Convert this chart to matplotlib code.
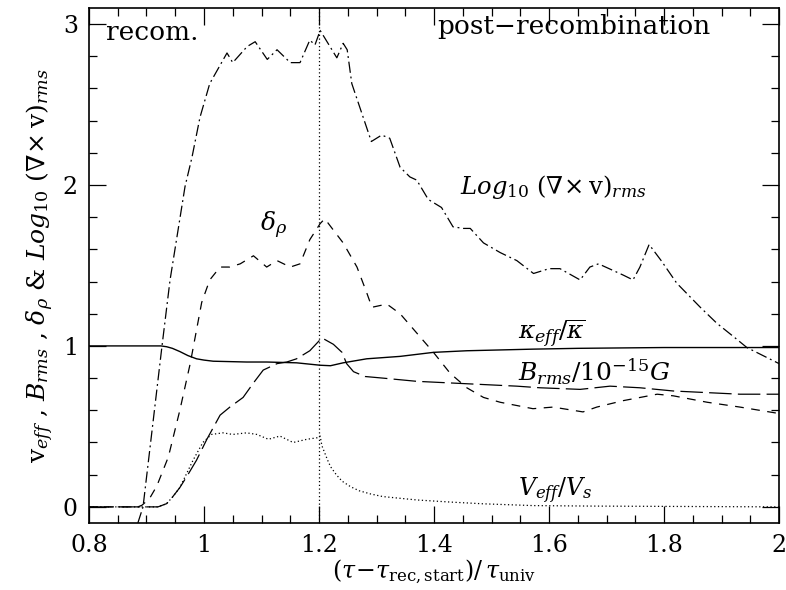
import matplotlib
matplotlib.use('Agg')
import matplotlib.pyplot as plt
from matplotlib.ticker import MultipleLocator

plt.rcParams['font.family'] = 'DejaVu Serif'
plt.rcParams['mathtext.fontset'] = 'dejavuserif'

# Log10 (curl v)_rms  (dash-dot)
curl_x = [0.885, 0.894, 0.927, 0.941, 0.967, 0.979, 0.993, 1.010, 1.040, 1.050, 1.075, 1.089,
          1.110, 1.127, 1.150, 1.167, 1.184, 1.193, 1.202, 1.231, 1.242, 1.249, 1.257, 1.291,
          1.309, 1.323, 1.341, 1.358, 1.370, 1.390, 1.413, 1.433, 1.451, 1.463, 1.486, 1.515,
          1.544, 1.573, 1.600, 1.619, 1.654, 1.671, 1.686, 1.729, 1.746, 1.758, 1.774, 1.795,
          1.822, 1.863, 1.892, 1.920, 1.944, 2.000]
curl_y = [-0.1, 0.0, 1.0, 1.41, 1.99, 2.17, 2.42, 2.63, 2.82, 2.76, 2.86, 2.89,
          2.78, 2.84, 2.76, 2.76, 2.90, 2.87, 2.96, 2.79, 2.88, 2.84, 2.63, 2.27,
          2.31, 2.29, 2.11, 2.05, 2.03, 1.91, 1.86, 1.74, 1.73, 1.73, 1.64, 1.58,
          1.53, 1.45, 1.48, 1.48, 1.41, 1.49, 1.51, 1.44, 1.41, 1.49, 1.63, 1.53,
          1.39, 1.24, 1.14, 1.06, 0.99, 0.89]

# delta_rho  (short dashes)
rho_x = [0.80, 0.885, 0.892, 0.905, 0.918, 0.938, 0.958, 0.976, 0.996, 1.010, 1.028, 1.045,
         1.063, 1.086, 1.109, 1.127, 1.150, 1.167, 1.184, 1.202, 1.210, 1.242, 1.266, 1.283,
         1.292, 1.318, 1.341, 1.370, 1.399, 1.428, 1.457, 1.486, 1.515, 1.572, 1.607, 1.659,
         1.683, 1.729, 1.788, 1.816, 1.875, 1.932, 2.000]
rho_y = [0.0, 0.0, 0.01, 0.05, 0.13, 0.31, 0.60, 0.89, 1.27, 1.41, 1.49, 1.49,
         1.51, 1.56, 1.49, 1.53, 1.49, 1.51, 1.66, 1.76, 1.79, 1.64, 1.49, 1.33,
         1.24, 1.26, 1.20, 1.08, 0.96, 0.83, 0.74, 0.68, 0.65, 0.61, 0.62, 0.59,
         0.62, 0.66, 0.70, 0.69, 0.65, 0.62, 0.58]

# B_rms / 1e-15 G  (long dashes)
b_x = [0.80, 0.92, 0.935, 0.945, 0.958, 0.972, 0.987, 1.005, 1.028, 1.045, 1.068, 1.086,
       1.103, 1.127, 1.144, 1.161, 1.184, 1.205, 1.225, 1.240, 1.248, 1.260, 1.280, 1.311,
       1.370, 1.428, 1.486, 1.544, 1.584, 1.654, 1.706, 1.758, 1.816, 1.874, 1.932, 2.000]
b_y = [0.0, 0.0, 0.02, 0.06, 0.12, 0.20, 0.29, 0.42, 0.57, 0.62, 0.68, 0.77,
       0.85, 0.89, 0.90, 0.92, 0.97, 1.05, 1.01, 0.96, 0.89, 0.84, 0.81, 0.80,
       0.78, 0.77, 0.76, 0.75, 0.74, 0.73, 0.75, 0.74, 0.72, 0.71, 0.70, 0.70]

# kappa_eff / kappa_bar  (solid)
kap_x = [0.80, 0.925, 0.935, 0.945, 0.958, 0.972, 0.987, 1.000, 1.016, 1.074, 1.109, 1.161,
         1.202, 1.220, 1.242, 1.283, 1.341, 1.399, 1.457, 1.515, 1.572, 1.650, 1.800, 2.000]
kap_y = [1.0, 1.0, 0.995, 0.985, 0.965, 0.94, 0.92, 0.912, 0.905, 0.90, 0.90, 0.895,
         0.88, 0.877, 0.895, 0.92, 0.935, 0.96, 0.97, 0.975, 0.98, 0.985, 0.99, 0.99]

# v_eff / v_s  (dotted)
v_x = [0.80, 0.92, 0.935, 0.945, 0.958, 0.981, 0.998, 1.013, 1.033, 1.050, 1.074, 1.092,
       1.112, 1.132, 1.155, 1.179, 1.198, 1.202, 1.205, 1.210, 1.215, 1.220, 1.230, 1.240,
       1.255, 1.270, 1.290, 1.311, 1.370, 1.428, 1.486, 1.572, 1.671, 2.000]
v_y = [0.0, 0.0, 0.02, 0.06, 0.12, 0.29, 0.40, 0.45, 0.46, 0.45, 0.46, 0.45,
       0.42, 0.44, 0.40, 0.42, 0.43, 0.44, 0.38, 0.335, 0.29, 0.25, 0.20, 0.16,
       0.125, 0.10, 0.08, 0.064, 0.043, 0.03, 0.019, 0.008, 0.005, 0.0]

fig = plt.figure(figsize=(7.86, 5.9), dpi=100)
ax = fig.add_axes([0.1132, 0.1136, 0.878, 0.873])

ax.plot(curl_x, curl_y, color='black', lw=0.9, dashes=(9, 3, 1.5, 3))
ax.plot(rho_x, rho_y, color='black', lw=0.9, dashes=(7, 6))
ax.plot(b_x, b_y, color='black', lw=0.9, dashes=(18, 5))
ax.plot(kap_x, kap_y, color='black', lw=1.0)
ax.plot(v_x, v_y, color='black', lw=0.9, dashes=(1, 2))
ax.axvline(1.2, color='black', lw=0.9, dashes=(1, 2))

ax.set_xlim(0.8, 2.0)
ax.set_ylim(-0.1, 3.1)
ax.xaxis.set_minor_locator(MultipleLocator(0.05))
ax.yaxis.set_major_locator(MultipleLocator(1))
ax.yaxis.set_minor_locator(MultipleLocator(0.2))
ax.set_xticks([0.8, 1.0, 1.2, 1.4, 1.6, 1.8, 2.0])
ax.set_xticklabels(['0.8', '1', '1.2', '1.4', '1.6', '1.8', '2'])
ax.tick_params(which='both', direction='in', top=True, right=True, labelsize=17, width=0.9)
ax.tick_params(which='major', length=12, pad=8)
ax.tick_params(which='minor', length=6)
for spine in ax.spines.values():
    spine.set_linewidth(1.2)

ax.set_xlabel(r'$(\tau\!-\!\tau_{\rm rec,start})/\,\tau_{\rm univ}$', fontsize=17, labelpad=0)
ax.set_ylabel(r'v$_{eff}$ , $B_{rms}$ , $\delta_\rho$ & $Log_{\mathit{10}}\ (\nabla\!\times$v$)_{rms}$',
              fontsize=18, labelpad=5)

ax.text(0.830, 2.90, 'recom.', fontsize=19, ha='left', va='baseline')
ax.text(1.405, 2.94, 'post\u2212recombination', fontsize=19, ha='left', va='baseline')
ax.text(1.445, 1.99, r'$Log_{\mathit{10}}\ (\nabla\!\times$v$)_{rms}$', fontsize=17.5,
        ha='left', va='center')
ax.text(1.097, 1.75, r'$\delta_\rho$', fontsize=18, ha='left', va='center')
ax.text(1.546, 1.08, r'$\kappa_{eff}/\overline{\kappa}$', fontsize=18, ha='left', va='center')
ax.text(1.546, 0.84, r'$B_{rms}/10^{-15}G$', fontsize=18, ha='left', va='center')
ax.text(1.546, 0.10, r'$V_{eff}/V_s$', fontsize=17, ha='left', va='center')

fig.savefig('out.png', dpi=100)
